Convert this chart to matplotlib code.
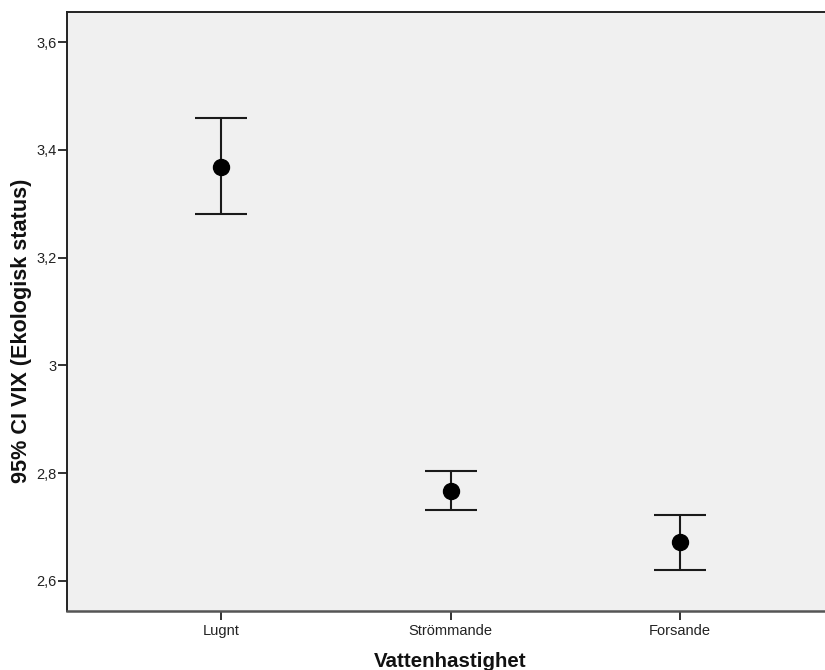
import matplotlib
matplotlib.use("Agg")
import matplotlib.pyplot as plt
import numpy as np

categories = ["Lugnt", "Strömmande", "Forsande"]
means = [3.369, 2.767, 2.672]
upper = [3.459, 2.803, 2.723]
lower = [3.281, 2.731, 2.621]
yticks = [2.6, 2.8, 3.0, 3.2, 3.4, 3.6]
yticklabels = ["2,6", "2,8", "3", "3,2", "3,4", "3,6"]

plt.rcParams['font.family'] = ['Liberation Sans', 'DejaVu Sans']

fig = plt.figure(figsize=(8.25, 6.7), dpi=100)
ax = fig.add_axes([67/825, 59/670, 767/825, 599/670])
ax.set_facecolor("#f0f0f0")

x = np.arange(len(categories))
m = np.array(means)
yerr = np.vstack([m - np.array(lower), np.array(upper) - m])
ax.errorbar(x, m, yerr=yerr, fmt='o', color='black', ecolor='#1a1a1a',
            elinewidth=1.5, capsize=19, capthick=1.5, markersize=11.5, zorder=3)

ax.set_xlim(-0.67, 2.67)
ax.set_ylim(2.544, 3.656)
ax.set_xticks(x)
ax.set_xticklabels(categories)
ax.set_yticks(yticks)
ax.set_yticklabels(yticklabels)

ax.tick_params(axis='both', direction='out', length=6.5, width=1.3,
               colors='#222222', labelsize=10.5, labelcolor='#222222')
ax.tick_params(axis='y', pad=1)
ax.tick_params(axis='x', pad=3)

for side in ['left', 'top', 'right']:
    ax.spines[side].set_color('#222222')
    ax.spines[side].set_linewidth(1.4)
ax.spines['bottom'].set_color('#555555')
ax.spines['bottom'].set_linewidth(1.8)

ax.set_xlabel("Vattenhastighet", fontsize=14.8, fontweight='bold', color='#111111', labelpad=4)
ax.set_ylabel("95% CI VIX (Ekologisk status)", fontsize=15.6, fontweight='bold', color='#111111')
ax.yaxis.set_label_coords(-0.046, 0.467)
ax.xaxis.set_label_coords((450 - 67) / 767, -0.068)

fig.savefig("out.png", dpi=100, facecolor='white')
